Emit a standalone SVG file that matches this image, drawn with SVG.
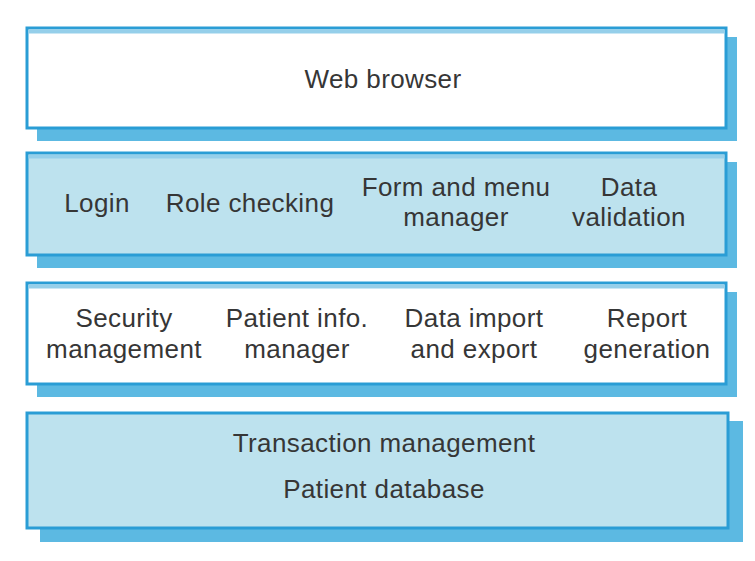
<svg xmlns="http://www.w3.org/2000/svg" width="755" height="561" viewBox="0 0 755 561">
<style>
.shadow{fill:#5cb9e2;}
.box{stroke:#2a9dd5;stroke-width:3;}
.white{fill:#ffffff;}
.blue{fill:#bde2ee;}
.top{stroke:#95cfea;stroke-width:4;}
text{font-family:"Liberation Sans",Arial,sans-serif;font-size:26px;letter-spacing:0.4px;fill:#363636;text-anchor:middle;}
</style>
<rect width="755" height="561" fill="#ffffff"/>
<g id="web-browser">
<rect class="shadow" x="37" y="37" width="700" height="104"/>
<rect class="box white" x="27" y="28" width="699" height="100"/>
<line class="top" x1="28.5" y1="31.5" x2="724.5" y2="31.5"/>
<text x="383" y="88">Web browser</text>
</g>
<g id="ui-layer">
<rect class="shadow" x="37" y="162" width="700" height="106"/>
<rect class="box blue" x="27" y="153" width="699" height="102"/>
<line class="top" x1="28.5" y1="156.5" x2="724.5" y2="156.5"/>
<text x="97" y="212">Login</text>
<text x="250" y="212">Role checking</text>
<text x="456" y="196">Form and menu</text>
<text x="456" y="226">manager</text>
<text x="629" y="196">Data</text>
<text x="629" y="226">validation</text>
</g>
<g id="services-layer">
<rect class="shadow" x="37" y="292" width="700" height="105"/>
<rect class="box white" x="27" y="283" width="699" height="101"/>
<line class="top" x1="28.5" y1="286.5" x2="724.5" y2="286.5"/>
<text x="124" y="327">Security</text>
<text x="124" y="358">management</text>
<text x="297" y="327">Patient info.</text>
<text x="297" y="358">manager</text>
<text x="474" y="327">Data import</text>
<text x="474" y="358">and export</text>
<text x="647" y="327">Report</text>
<text x="647" y="358">generation</text>
</g>
<g id="database-layer">
<rect class="shadow" x="40" y="421" width="703" height="121"/>
<rect class="box blue" x="27" y="413" width="701" height="115"/>
<text x="384" y="452">Transaction management</text>
<text x="384" y="498">Patient database</text>
</g>
<g id="connectors"></g>
</svg>
